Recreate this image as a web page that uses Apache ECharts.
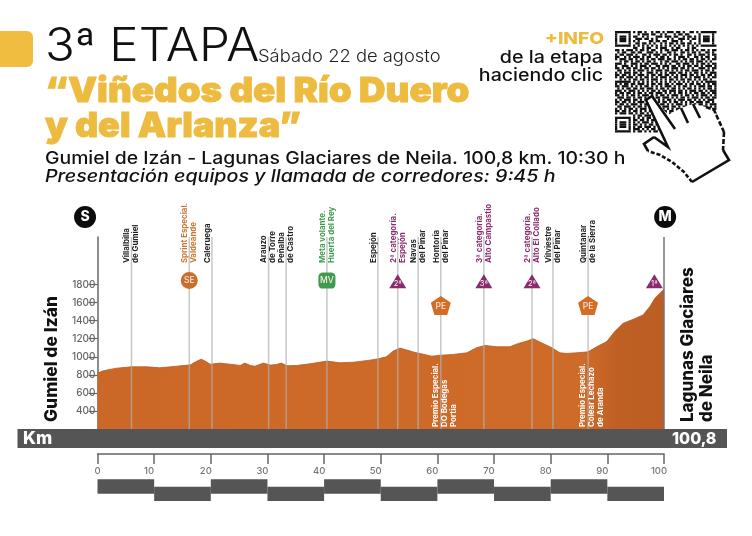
<!DOCTYPE html>
<html><head><meta charset="utf-8">
<style>html,body{margin:0;padding:0;background:#fff}#c{width:752px;height:536px}</style>
<script src="https://cdn.jsdelivr.net/npm/echarts@6/dist/echarts.min.js"></script>
</head><body><div id="c"></div>
<script>
// Elevation profile
const profileKm = [0,1,2.2,3.4,6,8.7,11,14,16.4,17.5,18.3,19,19.9,21.6,23.4,25.2,26,27,27.8,29.3,30.5,31.6,32.5,33.4,35.2,37.5,40.5,42.8,45.2,48.1,49.6,51,52.2,53.4,54.6,55.8,56.9,59,60.7,62.8,65.2,66.9,68.4,70.5,72.8,74.3,75.8,76.9,78.1,80.2,81.6,82.8,84.6,86.6,88.1,89.9,91.3,92.8,94.6,96.3,97.5,98.4,99.3,100];
const profileElev = [818,844,860,874,889,889,878,896,911,950,974,952,918,930,918,904,930,904,896,930,908,915,930,900,904,922,952,933,940,963,978,1000,1063,1096,1074,1052,1037,1007,1018,1026,1044,1100,1126,1111,1111,1148,1174,1200,1163,1100,1044,1037,1044,1055,1110,1169,1280,1372,1416,1464,1556,1649,1704,1750];
// Way-points
const wayKm = [6,16.2,20.2,30.2,33.3,40.5,49.5,53,56.6,60.6,68.2,76.7,80.4,86.6];
const wayNames = ["Villalbilla\nde Gumiel","Sprint Especial.\nValdeande","Caleruega","Arauzo\nde Torre","Peñalba\nde Castro","Meta volante.\nHuerta del Rey","Espejón","2ª categoría.\nEspejón","Navas\ndel Pinar","Hontoría\ndel Pinar","3ª categoría.\nAlto Campastio","2ª categoría.\nAlto El Collado","Vilviestre\ndel Pinar","Quintanar\nde la Sierra"];
const wayKinds = ["p","o","p","p","p","g","p","m","p","p","m","m","p","p"];
// Premios written inside the profile
const prizeKm = [60.6,86.6];
const prizeNames = ["Premio Especial.\nDO Bodegas\nPortia","Premio Especial.\nColear Lechazo\nde Aranda"];
// Markers
const markKm = [16.2,40.5,53,60.6,68.2,76.7,86.6,98.3];
const markElev = [1844,1844,1838,1568,1838,1838,1568,1838];
const markText = ["SE","MV","2ª","PE","3ª","2ª","PE","1ª"];
const markKind = ["circle","rect","tri","pent","tri","tri","pent","tri"];
// Start / finish badges
const badgeKm = [-2.2,100.2];
const badgeElev = [2548,2548];
const badgeText = ["S","M"];
// Axis labels
const elevTicks = [400,600,800,1000,1200,1400,1600,1800];
const scaleSegments = [0,10,20,30,40,50,60,70,80,90,100];
const qrRows = [
"#######.#.##.#..#.##.#.###.##.#..##.#.#######",
"#.....#...#.###.##..#.#...#.##.##....#.....#",
"#.###.#.##..#.#...###.###.##..#.##.#.#.###.#",
"#.###.#..###.##.#.#....#.#..###.#.##.#.###.#",
"#.###.#.#.#....##.##.##..###.#...#...#.###.#",
"#.....#..##.##.#.#..#.#.##.#.##.##.#.#.....#",
"#######.#.#.#.#.#.#.#.#.#.#.#.#.#.#.#.#######",
"........##..#.##..#.###..#.##...#.##.........",
"##.#.###.#.##.#.##..#.##.###.#.##.#.#.##.#.##",
".#.##..##.##..###.#.#..##.#..##.#.##.#..##.#.",
"#.##.###.#..##.#.###.##.#.##.#..##.#.###.#.##",
"##..#.#.###.#.##..#.##.#..#.###.#..##.#.##..#",
"#.###.##.#.##.#.##.###.##.#.#.##.##.#.##.#.##",
"..#.##.#.##.#.##.#..#.##.###.#.#.##.###.#.#..",
"###.#..###.#.##.###.#.#.#..##.###.#.#.##.#.##",
"#..###.#.#.###.#..##.###.##.#.#.##.##.#.###.#",
"##.#.##.##.#.##.##.#.#.#.###.##.#.#..###.#.##",
".##.#.#.#.###.#.#.###.##.#.#.#.##.###.#.##.#.",
"#.#.###.##.#..###.#.#.#.###.##.#.#.##.#.#.###",
"##.##.#.#.###.#.##.##.##.#.#.###.##.#.##.##.#",
"#.##.###.#.#.##.#.#.###.#.##.#.#.#.###.#.#.##",
"..#.#.#.##.##.#.###.#.#.##.#.##.##.#.#.##.#..",
"#######.#.#.#.#.#.#.#.#.#.#.#.#.#.#.#.#.#####",
"#.#.##.##.###.#.##.##.##.#.###.#.##.##.#.#.##",
"##.###.#.#.#.##.#.#.#.###.#.#.##.#.#.###.##.#",
".#.#.##.##.##.###.#.##.#.##.#.#.##.#.#.#.##.#",
"###.#.###.#.#.#.##.#.##.###.##.#.###.##.#.###",
"#.##.##.#.##.#.##.###.#.#.#.##.#.#.##.##.#.##",
"##.#.#.##.#.###.#.#.##.#.###.#.##.#.#.###.#.#",
".###.##.#.##.#.##.##.###.#.#.##.#.###.#.##.##",
"#.#.###.##.#.#.###.#.#.##.#.###.##.#.#.#.###.",
"##.##.#.#.###.##.#.#.##.#.##.#.#.##.###.##.#.",
"#.##.#.###.#.##.###.##.#.#.###.#.#.#.##.#.###",
".##.###.#.##.#.#.#.#.###.##.#.##.###.#.##.#.#",
"#.#.#.##.#.###.##.##.#.#.#.##.#.##.#.###.#.##",
"##.##.#.##.#.#.##.#.###.##.#.###.#.##.#.##.#.",
"#.###.##.#.##.#.#.###.#.#.##.#.##.#.###.#.###",
"........#.##.###.#.#.##.###.#.##.#.#.##.#.#.#",
"#######.#.#.#.##.#.##.#.#.###.#.##.##.#.#.##.",
"#.....#.##.##.#.###.#.##.#.#.##.#.#.###.#.#.#",
"#.###.#.#.#.###.#.#.###.#.###.#.##.#.#.##.###",
"#.###.#.##.#.#.##.##.#.##.#.#.##.#.###.#.#.##",
"#.###.#.#.##.###.#.#.###.##.###.#.##.#.##.#.#",
"#.....#.###.#.#.##.###.#.#.#.#.##.#.###.#.###",
"#######.#.##.#.#.##.#.##.###.#.#.###.#.#.##.#"
];

const FONT = 'Inter';
const chart = echarts.init(document.getElementById('c'), null, {renderer:'canvas'});
const wayColor = {p:'#222', o:'#C8762F', g:'#3F9A4E', m:'#8A2B6F'};
const markStyle = {
  circle:{symbol:'circle',symbolSize:17,color:'#C8702B'},
  rect:{symbol:'roundRect',symbolSize:[17,16],color:'#3F9A4E'},
  tri:{symbol:'triangle',symbolSize:[17,14],color:'#8A2B6F'},
  pent:{symbol:'path://M50 0 L100 36 L82 100 L18 100 L0 36 Z',symbolSize:[20,19],color:'#D66C22'}
};
const textG = [];
function t(text,x,y,size,weight,color,o){
  o=o||{};
  textG.push(Object.assign({type:'text',x,y,z:20,scaleX:o.sx||1,originX:0,originY:0,style:Object.assign({text,fill:color,font:`${o.italic?'italic ':''}${weight} ${size}px ${FONT}`,align:o.align||'left',verticalAlign:'middle'},o.style)},o.el));
}
const yel='#EDBB3F';
t('3ª ETAPA',45,47,46,300,'#111',{sx:1.07});
t('Sábado 22 de agosto',258,57,17.5,300,'#222',{sx:1.05});
t('“Viñedos del Río Duero',45,92,34.5,900,yel,{sx:1.063,style:{stroke:yel,lineWidth:0.9}});
t('y del Arlanza”',45,127,34.5,900,yel,{sx:1.04,style:{stroke:yel,lineWidth:0.9}});
t('Gumiel de Izán - Lagunas Glaciares de Neila. 100,8 km. 10:30 h',45,159,17,500,'#111',{sx:1.14});
t('Presentación equipos y llamada de corredores: 9:45 h',45,177,17,500,'#111',{italic:true,sx:1.156});
t('+INFO',604,39,16.5,800,yel,{align:'right',sx:1.16});
t('de la etapa',603,58,17,500,'#111',{align:'right',sx:1.155});
t('haciendo clic',603,76,17,500,'#111',{align:'right',sx:1.153});
t('Km',23,439,17,800,'#fff',{sx:1.03});
t('100,8',672,439,16,800,'#fff');
t('Gumiel de Izán',52,422,17.4,800,'#111',{el:{rotation:Math.PI/2}});
t('Lagunas Glaciares\nde Neila',697,422,17,800,'#111',{el:{rotation:Math.PI/2},style:{lineHeight:19}});

// QR code + hand
const qrX=615, qrY=31, qrM=101.5/45, qrRects=[];
qrRows.forEach((r,j)=>{ let i=0; while(i<45){ if(r[i]==='#'){ let s=i; while(i<45&&r[i]==='#') i++; qrRects.push({type:'rect',shape:{x:qrX+s*qrM,y:qrY+j*qrM,width:(i-s)*qrM,height:qrM},style:{fill:'#111'},z:10}); } else i++; }});
const hand = {type:'polygon',z:12,shape:{points:[[646,100],[652,96],[668,115],[681,108],[693,104],[706,107],[714,110],[724,132],[723,150],[729,160],[692,182],[684,172],[672,162],[660,155],[648,151],[644,144],[654,137],[668,147]]},style:{fill:'#fff'}};
const strokeLine=(points,dash)=>({type:'polyline',z:13,shape:{points},style:{stroke:'#111',lineWidth:2.6,fill:null,lineDash:dash||null}});
const handEdges = [
  strokeLine([[654,137],[668,147],[646,100],[652,96],[675,129]]),
  strokeLine([[681,108],[688,123]]),
  strokeLine([[693,104],[700,118]]),
  strokeLine([[706,107],[714,110],[724,132]],[5,2]),
  strokeLine([[724,132],[723,150]],[5,2]),
  strokeLine([[723,150],[729,160],[692,182]]),
  strokeLine([[692,182],[684,172],[672,162],[660,155],[648,151]],[4,2]),
  strokeLine([[648,151],[644,144],[654,137]])
];

const bands = [
  {type:'rect',z:5,shape:{x:0,y:31,width:33,height:36,r:[0,6,6,0]},style:{fill:'#F0BD41'}},
  {type:'rect',z:5,shape:{x:17.5,y:429,width:709.5,height:19},style:{fill:'#555'}}
];

chart.setOption({
  animation:false,
  backgroundColor:'#fff',
  graphic:{elements:[...bands,...qrRects,hand,...handEdges,...textG]},
  grid:[
    {left:97.5,right:88,top:237,bottom:107},
    {left:97.5,right:88,top:454,height:47}
  ],
  xAxis:[
    {gridIndex:0,type:'value',min:0,max:100,show:false},
    {gridIndex:1,type:'value',min:0,max:100,interval:10,position:'top',
     axisLine:{show:true,lineStyle:{color:'#666',width:1.5}},
     axisTick:{show:true,inside:true,length:10,lineStyle:{color:'#666',width:1.5}},
     splitLine:{show:false},
     axisLabel:{inside:true,margin:12,formatter:v=>v===0?'{z|0}':'{n|'+v+'}',
       rich:{z:{fontFamily:FONT,fontSize:9.5,color:'#777',fontWeight:500},n:{fontFamily:FONT,fontSize:9.5,color:'#777',fontWeight:500,padding:[0,10,0,0]}}}}
  ],
  yAxis:[
    {gridIndex:0,type:'value',min:200,max:2327,splitLine:{show:false},
     axisLine:{show:true,lineStyle:{color:'#666',width:1.5}},
     axisTick:{show:true,length:9,customValues:elevTicks,lineStyle:{color:'#666',width:1.2}},
     axisLabel:{show:true,margin:2,customValues:elevTicks,formatter:v=>String(v),fontFamily:FONT,fontSize:10,fontWeight:500,color:'#666'}},
    {gridIndex:1,type:'value',min:0,max:47,inverse:true,show:false}
  ],
  series:[
    {type:'line',xAxisIndex:0,yAxisIndex:0,z:2,data:profileKm.map((k,i)=>[k,profileElev[i]]),showSymbol:false,silent:true,
     lineStyle:{color:'#B9591F',width:0.8},
     areaStyle:{opacity:1,origin:'start',color:new echarts.graphic.LinearGradient(0,0,1,0,[
       {offset:0,color:'#CB6827'},{offset:.45,color:'#CE6A28'},{offset:.86,color:'#CF6B28'},{offset:.92,color:'#BE5F24'},{offset:1,color:'#BC5D23'}])}},
    {type:'custom',xAxisIndex:0,yAxisIndex:0,z:3,clip:false,silent:true,
     data:wayKm.map(k=>[k]),
     encode:{x:0},
     renderItem:(p,api)=>{
       const k=api.value(0), i=p.dataIndex, name=wayNames[i];
       const top=api.coord([k,2327]), bot=api.coord([k,200]), lab=api.coord([k,2038]);
       const dx=name.includes('\n')?0:-4;
       return {type:'group',children:[
         {type:'line',shape:{x1:top[0],y1:top[1],x2:bot[0],y2:bot[1]},style:{stroke:'rgba(175,175,175,0.7)',lineWidth:1.5}},
         {type:'text',x:lab[0]+dx,y:lab[1],rotation:Math.PI/2,style:{text:name,fill:wayColor[wayKinds[i]],font:`700 7.9px ${FONT}`,lineHeight:9,align:'left',verticalAlign:'middle'}}
       ]};
     }},
    {type:'custom',xAxisIndex:0,yAxisIndex:0,z:4,clip:false,silent:true,
     data:prizeKm.map(k=>[k]),encode:{x:0},
     renderItem:(p,api)=>{
       const c=api.coord([api.value(0),222]);
       return {type:'text',x:c[0]+4,y:c[1],rotation:Math.PI/2,style:{text:prizeNames[p.dataIndex],fill:'#fff',font:`700 7.9px ${FONT}`,lineHeight:9,align:'left',verticalAlign:'middle'}};
     }},
    {type:'custom',xAxisIndex:0,yAxisIndex:0,z:4,clip:false,silent:true,
     data:[[100]],encode:{x:0},
     renderItem:(p,api)=>{
       const a=api.coord([api.value(0),2327]), b=api.coord([api.value(0),200]);
       return {type:'line',shape:{x1:a[0],y1:a[1],x2:b[0],y2:b[1]},style:{stroke:'#777',lineWidth:1.5}};
     }},
    {type:'scatter',xAxisIndex:0,yAxisIndex:0,z:6,clip:false,silent:true,
     data:markKm.map((k,i)=>{const s=markStyle[markKind[i]];return {
       value:[k,markElev[i]],symbol:s.symbol,symbolSize:s.symbolSize,itemStyle:{color:s.color,opacity:1},
       label:{show:true,position:'inside',offset:markKind[i]==='tri'?[0,3]:[0,markKind[i]==='pent'?1:0],formatter:markText[i],color:'#F4E9E2',fontFamily:FONT,fontSize:markKind[i]==='tri'?7.5:8.5,fontWeight:500}
     };})},
    {type:'scatter',xAxisIndex:0,yAxisIndex:0,z:6,clip:false,silent:true,
     data:badgeKm.map((k,i)=>({value:[k,badgeElev[i]],symbol:'circle',symbolSize:22,itemStyle:{color:'#0c0c0c',opacity:1},
       label:{show:true,position:'inside',formatter:badgeText[i],color:'#fff',fontFamily:FONT,fontSize:14,fontWeight:800}}))},
    {type:'custom',xAxisIndex:1,yAxisIndex:1,z:3,clip:false,silent:true,
     data:scaleSegments.slice(0,-1).map((k,i)=>[k,scaleSegments[i+1]]),encode:{x:[0,1]},
     renderItem:(p,api)=>{
       const upper=p.dataIndex%2===0;
       const a=api.coord([api.value(0),upper?25.3:32.7]), b=api.coord([api.value(1),upper?39.7:47]);
       return {type:'rect',shape:{x:a[0],y:a[1],width:b[0]-a[0],height:b[1]-a[1]},style:{fill:'#555'}};
     }}
  ]
});
</script></body></html>
